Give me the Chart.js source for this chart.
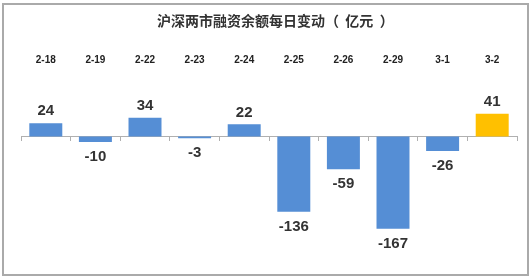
<!DOCTYPE html>
<html>
<head>
<meta charset="utf-8">
<script src="https://cdn.jsdelivr.net/npm/chart.js@4"></script>
<style>
  body { margin: 0; background: #fff; }
  #frame { position: absolute; left: 2px; top: 3px; width: 523px; height: 269px; border: 2px solid #aaa; }
  #wrap { position: absolute; left: 0; top: 0; width: 532px; height: 280px; }
</style>
</head>
<body>
<div id="frame"></div>
<div id="wrap"><canvas id="chart" width="532" height="280"></canvas></div>
<script>
// --- DATA ---
const dates = ['2-18', '2-19', '2-22', '2-23', '2-24', '2-25', '2-26', '2-29', '3-1', '3-2'];
const changes = [24, -10, 34, -3, 22, -136, -59, -167, -26, 41];
const barColors = ['#558ED5', '#558ED5', '#558ED5', '#558ED5', '#558ED5', '#558ED5', '#558ED5', '#558ED5', '#558ED5', '#FFC000'];

// value labels above / below each bar
const valueLabels = {
    id: 'valueLabels',
    afterDatasetsDraw(chart) {
        const c = chart.ctx;
        const meta = chart.getDatasetMeta(0);
        c.save();
        c.font = 'bold 15px "Liberation Sans", Arial, sans-serif';
        c.fillStyle = '#333';
        c.textAlign = 'center';
        c.textBaseline = 'middle';
        meta.data.forEach((bar, i) => {
            const v = changes[i];
            const y = v >= 0 ? bar.y - 12 : bar.y + 15;
            c.fillText(String(v), bar.x, y);
        });
        c.restore();
    }
};

const ctx = document.getElementById('chart').getContext('2d');
const chart = new Chart(ctx, {
    type: 'bar',
    data: {
        labels: dates,
        datasets: [{
            data: changes,
            backgroundColor: barColors,
            borderWidth: 0,
            categoryPercentage: 1,
            barPercentage: 0.665
        }]
    },
    options: {
        responsive: false,
        animation: false,
        layout: { padding: { left: 21, right: 15, top: 0, bottom: 18 } },
        plugins: {
            legend: { display: false },
            tooltip: { enabled: false },
            title: {
                display: true,
                text: '    沪深两市融资余额每日变动（  亿元  ）',
                color: '#333',
                font: { family: '"Noto Sans CJK SC", sans-serif', size: 14, weight: 'bold' },
                padding: { top: 12, bottom: 20.6 }
            }
        },
        scales: {
            x: {
                position: 'top',
                grid: { display: false, drawTicks: false },
                border: { display: false },
                ticks: {
                    color: '#222',
                    padding: 4.4,
                    font: { family: '"Liberation Sans", Arial, sans-serif', size: 10, weight: 'bold' }
                }
            },
            x2: {
                type: 'category',
                position: { y: 0 },
                offset: true,
                grid: { offset: true, drawOnChartArea: false, tickLength: 4, color: '#b0b0b0' },
                border: { display: true, color: '#b0b0b0' },
                ticks: { display: false }
            },
            y: {
                display: false,
                min: -227,
                max: 120
            }
        }
    },
    plugins: [valueLabels]
});
</script>
</body>
</html>
